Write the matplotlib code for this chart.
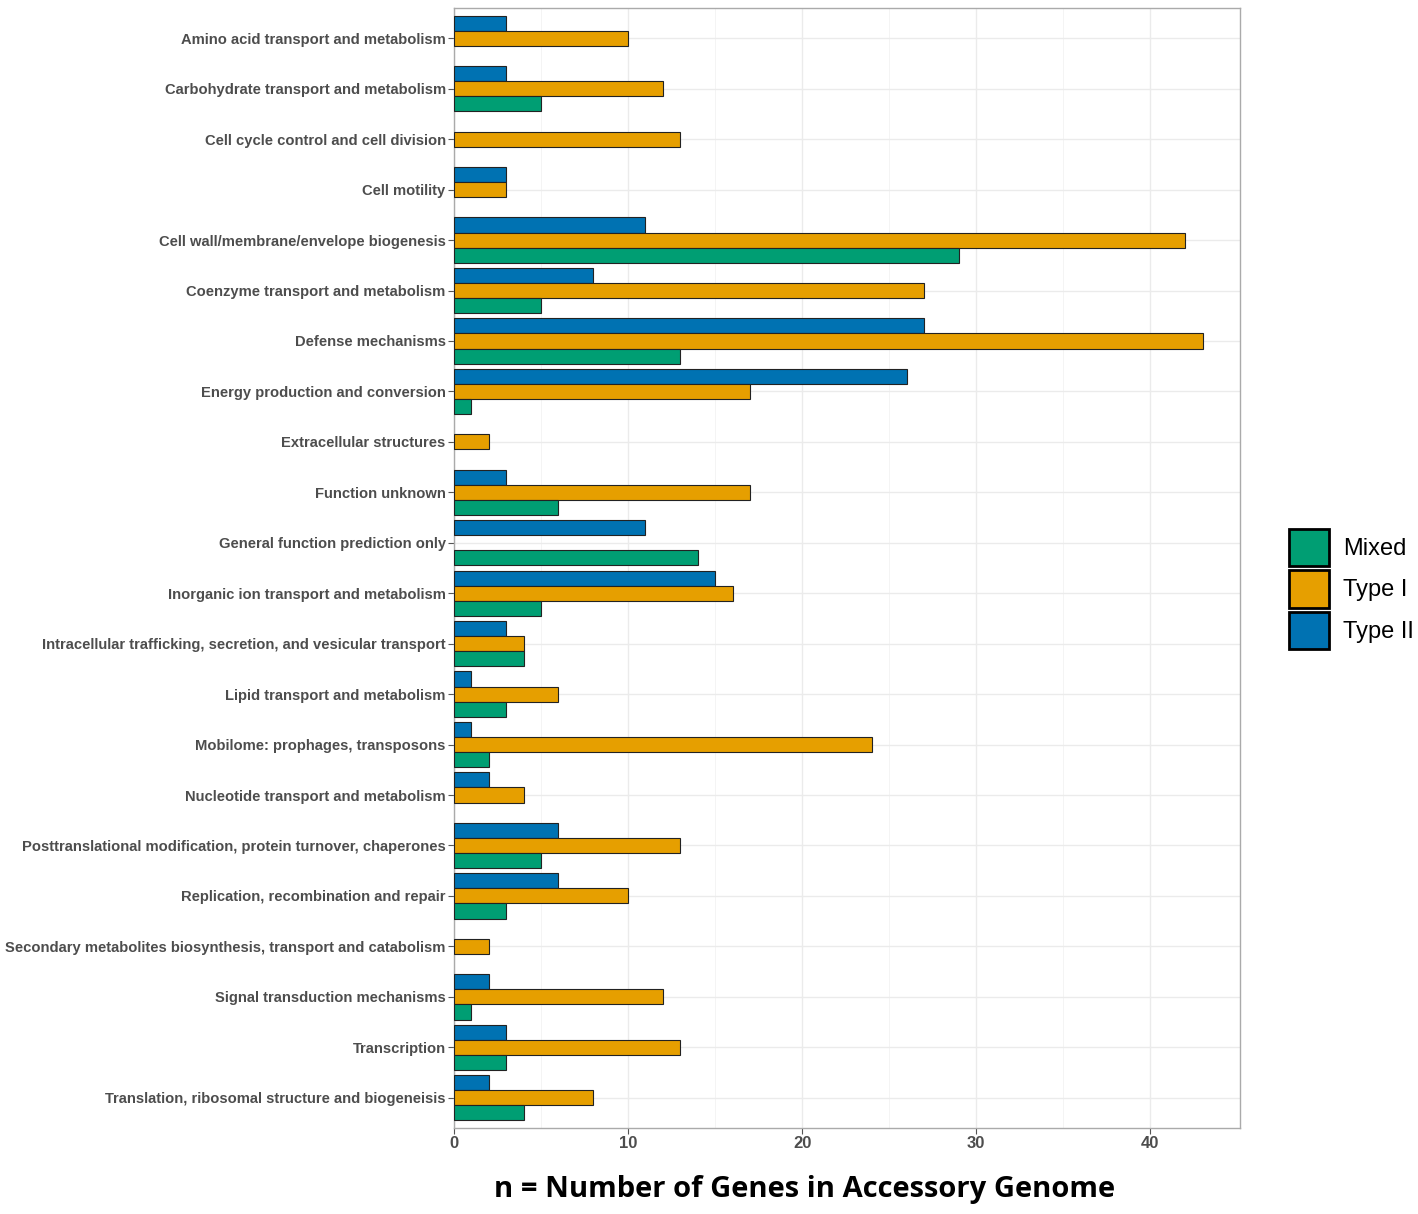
import numpy as np
import matplotlib
matplotlib.use('Agg')
from matplotlib import pyplot as plt
from matplotlib import font_manager
from matplotlib.patches import Patch

categories = [
    'Amino acid transport and metabolism',
    'Carbohydrate transport and metabolism',
    'Cell cycle control and cell division',
    'Cell motility',
    'Cell wall/membrane/envelope biogenesis',
    'Coenzyme transport and metabolism',
    'Defense mechanisms',
    'Energy production and conversion',
    'Extracellular structures',
    'Function unknown',
    'General function prediction only',
    'Inorganic ion transport and metabolism',
    'Intracellular trafficking, secretion, and vesicular transport',
    'Lipid transport and metabolism',
    'Mobilome: prophages, transposons',
    'Nucleotide transport and metabolism',
    'Posttranslational modification, protein turnover, chaperones',
    'Replication, recombination and repair',
    'Secondary metabolites biosynthesis, transport and catabolism',
    'Signal transduction mechanisms',
    'Transcription',
    'Translation, ribosomal structure and biogeneisis',
]

# 0 means the group has no bar for that category
type2 = [3, 3, 0, 3, 11, 8, 27, 26, 0, 3, 11, 15, 3, 1, 1, 2, 6, 6, 0, 2, 3, 2]
type1 = [10, 12, 13, 3, 42, 27, 43, 17, 2, 17, 0, 16, 4, 6, 24, 4, 13, 10, 2, 12, 13, 8]
mixed = [0, 5, 0, 0, 29, 5, 13, 1, 0, 6, 14, 5, 4, 3, 2, 0, 5, 3, 0, 1, 3, 4]

groups = ['Mixed', 'Type I', 'Type II']
colors = {'Mixed': '#009E73', 'Type I': '#E69F00', 'Type II': '#0072B2'}


def pick_font(names):
    have = {f.name for f in font_manager.fontManager.ttflist}
    for n in names:
        if n in have:
            return n
    return 'DejaVu Sans'


tick_font = pick_font(['Liberation Sans Narrow', 'Liberation Sans', 'DejaVu Sans'])
title_font = pick_font(['Open Sans', 'Noto Sans', 'DejaVu Sans'])
legend_font = pick_font(['Liberation Sans', 'DejaVu Sans'])

fig = plt.figure(figsize=(14.18, 12.14), dpi=100)
ax = fig.add_axes([454 / 1418, 1 - 1128 / 1214, (1240 - 454) / 1418, 1120 / 1214])

n = len(categories)
y = np.arange(n)[::-1] + 1  # first category on top
h = 0.3
offsets = {'Type II': h, 'Type I': 0.0, 'Mixed': -h}
data = {'Type II': type2, 'Type I': type1, 'Mixed': mixed}

for g in ['Type II', 'Type I', 'Mixed']:
    vals = np.array(data[g], dtype=float)
    mask = vals > 0
    ax.barh(y[mask] + offsets[g], vals[mask], height=h, color=colors[g],
            edgecolor='#222222', linewidth=0.8, zorder=3)

ax.set_xlim(0, 43 * 1.05)
ax.set_ylim(0.4, n + 0.6)
ax.set_xticks([0, 10, 20, 30, 40])
ax.set_xticks([5, 15, 25, 35], minor=True)
ax.set_yticks(y)
ax.set_yticklabels(categories)
ax.grid(True, which='major', color='#EBEBEB', linewidth=1.0, zorder=0)
ax.grid(True, which='minor', axis='x', color='#F3F3F3', linewidth=0.6, zorder=0)
ax.set_axisbelow(True)
for s in ax.spines.values():
    s.set_color('#AAAAAA')
    s.set_linewidth(1.0)
ax.tick_params(axis='both', which='major', length=4, color='#555555', width=0.8, pad=2)
ax.tick_params(axis='x', which='minor', length=0)
for lab in ax.get_yticklabels():
    lab.set_fontfamily(tick_font)
    lab.set_fontweight('bold')
    lab.set_fontsize(10.6)
    lab.set_color('#4D4D4D')
for lab in ax.get_xticklabels():
    lab.set_fontfamily(tick_font)
    lab.set_fontweight('bold')
    lab.set_fontsize(12)
    lab.set_color('#4D4D4D')

fig.text(0.5677, 1 - 1190 / 1214, 'n = Number of Genes in Accessory Genome',
         ha='center', va='center', fontsize=21, fontweight='bold',
         family=title_font, color='black')

handles = [Patch(facecolor=colors[g], edgecolor='black', linewidth=2) for g in groups]
fig.legend(handles, groups, loc='center left', bbox_to_anchor=(1289 / 1418, 1 - 589 / 1214),
           frameon=False, handlelength=1.7, handleheight=2.06,
           handletextpad=0.6, labelspacing=0.17, borderaxespad=0, borderpad=0,
           prop={'family': legend_font, 'size': 17})

fig.savefig('out.png', dpi=100, facecolor='white')
